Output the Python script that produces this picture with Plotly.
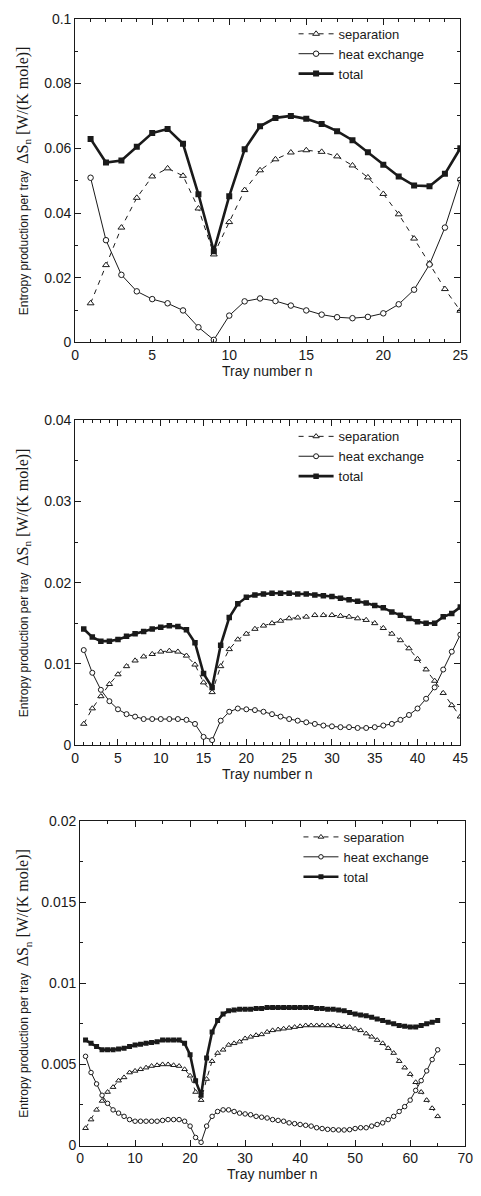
import plotly.graph_objects as go

# ---------------- data ----------------
top_trays = list(range(1, 26))
top_sep = [0.0121, 0.0239, 0.0355, 0.0447, 0.0513, 0.0538, 0.0515, 0.0414, 0.0272, 0.0372,
           0.0471, 0.0532, 0.0566, 0.0587, 0.0594, 0.0589, 0.0575, 0.0547, 0.0510, 0.0459,
           0.0396, 0.0321, 0.0244, 0.0165, 0.0098]
top_heat = [0.0509, 0.0316, 0.0209, 0.0158, 0.0134, 0.0121, 0.0099, 0.0047, 0.0008, 0.0083,
            0.0127, 0.0136, 0.0128, 0.0114, 0.0099, 0.0086, 0.0078, 0.0075, 0.0079, 0.0090,
            0.0118, 0.0163, 0.0241, 0.0355, 0.0503]
top_total = [0.0629, 0.0556, 0.0562, 0.0605, 0.0647, 0.0660, 0.0614, 0.0458, 0.0282, 0.0452,
             0.0597, 0.0668, 0.0694, 0.0700, 0.0691, 0.0675, 0.0653, 0.0625, 0.0588, 0.0549,
             0.0513, 0.0485, 0.0483, 0.0521, 0.0600]

mid_trays = list(range(1, 46))
mid_sep = [0.0026, 0.0045, 0.0060, 0.0075, 0.0087, 0.0097, 0.0104, 0.0109, 0.0112, 0.0115,
           0.0116, 0.0115, 0.0110, 0.0099, 0.0077, 0.0065, 0.0097, 0.0118, 0.0130, 0.0137,
           0.0143, 0.0147, 0.0150, 0.0153, 0.0156, 0.0157, 0.0158, 0.0160, 0.0160, 0.0160,
           0.0159, 0.0158, 0.0156, 0.0154, 0.0150, 0.0144, 0.0137, 0.0129, 0.0119, 0.0106,
           0.0093, 0.0079, 0.0064, 0.0049, 0.0035]
mid_heat = [0.0117, 0.0089, 0.0068, 0.0054, 0.0044, 0.0038, 0.0035, 0.0032, 0.0032, 0.0032,
            0.0032, 0.0032, 0.0031, 0.0026, 0.0010, 0.0006, 0.0030, 0.0041, 0.0045, 0.0044,
            0.0043, 0.0041, 0.0038, 0.0035, 0.0032, 0.0030, 0.0028, 0.0026, 0.0024, 0.0023,
            0.0022, 0.0022, 0.0021, 0.0021, 0.0022, 0.0024, 0.0026, 0.0031, 0.0037, 0.0045,
            0.0057, 0.0071, 0.0093, 0.0115, 0.0136]
mid_total = [0.0143, 0.0133, 0.0128, 0.0128, 0.0130, 0.0134, 0.0137, 0.0140, 0.0143, 0.0145,
             0.0147, 0.0146, 0.0142, 0.0126, 0.0088, 0.0071, 0.0123, 0.0157, 0.0174, 0.0182,
             0.0185, 0.0186, 0.0187, 0.0187, 0.0187, 0.0186, 0.0186, 0.0185, 0.0184, 0.0183,
             0.0181, 0.0179, 0.0177, 0.0175, 0.0172, 0.0169, 0.0164, 0.0160, 0.0156, 0.0152,
             0.0150, 0.0150, 0.0158, 0.0162, 0.0170]

bot_trays = list(range(1, 66))
bot_sep = [0.00107, 0.0016, 0.0022, 0.00275, 0.0033, 0.0036, 0.0040, 0.0042, 0.0045, 0.0046,
           0.0047, 0.0048, 0.0049, 0.00495, 0.0050, 0.0050, 0.00495, 0.0049, 0.0047, 0.0043,
           0.0033, 0.0028, 0.0041, 0.0052, 0.0057, 0.0059, 0.0062, 0.0063, 0.0064, 0.0066,
           0.0067, 0.0068, 0.00685, 0.0070, 0.0071, 0.00715, 0.0072, 0.00725, 0.0073, 0.00735,
           0.0074, 0.0074, 0.0074, 0.0074, 0.0074, 0.0074, 0.00735, 0.0073, 0.0073, 0.0072,
           0.0071, 0.0069, 0.0067, 0.0065, 0.0063, 0.0060, 0.0057, 0.0052, 0.0048, 0.0044,
           0.0039, 0.0033, 0.0028, 0.0023, 0.0018]
bot_heat = [0.0055, 0.0045, 0.0038, 0.0031, 0.0026, 0.0022, 0.0020, 0.0018, 0.0016, 0.0015,
            0.0015, 0.0015, 0.0015, 0.0015, 0.00155, 0.0016, 0.0016, 0.0016, 0.0015, 0.0012,
            0.0005, 0.0002, 0.0012, 0.0018, 0.0021, 0.0022, 0.0022, 0.0021, 0.0020, 0.00195,
            0.0019, 0.0018, 0.00175, 0.0017, 0.0016, 0.00155, 0.0015, 0.0014, 0.00135, 0.0013,
            0.00125, 0.0012, 0.0011, 0.00105, 0.0010, 0.00098, 0.00096, 0.00096, 0.00098, 0.00105,
            0.0011, 0.0011, 0.0012, 0.0013, 0.0014, 0.0016, 0.0018, 0.0021, 0.0024, 0.0028,
            0.0034, 0.0040, 0.0046, 0.0053, 0.0059]
bot_total = [0.0065, 0.0063, 0.0061, 0.0059, 0.0059, 0.0059, 0.00595, 0.0060, 0.0061, 0.0062,
             0.00625, 0.0063, 0.00635, 0.0064, 0.0065, 0.0065, 0.0065, 0.0065, 0.0063, 0.0056,
             0.0040, 0.0031, 0.0054, 0.0070, 0.0077, 0.0081, 0.0083, 0.00835, 0.0084, 0.0084,
             0.0084, 0.00845, 0.00845, 0.0085, 0.0085, 0.0085, 0.0085, 0.0085, 0.0085, 0.0085,
             0.0085, 0.0085, 0.00845, 0.00845, 0.0084, 0.0084, 0.00835, 0.0083, 0.0082, 0.0081,
             0.00805, 0.0080, 0.0079, 0.0078, 0.0077, 0.0076, 0.0075, 0.0074, 0.00735, 0.0073,
             0.0073, 0.0074, 0.0075, 0.0076, 0.0077]

series_names = ["separation", "heat exchange", "total"]
x_title = "Tray number n"
y_title = ("Entropy production per tray&nbsp;&nbsp;"
           "<span style=\"font-family:'Liberation Serif','Times New Roman',serif;font-size:16px\">"
           "ΔS<sub>n</sub> [W/(K mole)]</span>")

# ---------------- layout geometry ----------------
W, H = 481, 1196
panels = [
    dict(n=top_trays, sep=top_sep, heat=top_heat, tot=top_total, xr=[0, 25], xd=5, xm=1,
         yr=[0, 0.1], yd=0.02, ym=0.01, box=(73, 468, 11, 339), ms=6, leg=(297, 11)),
    dict(n=mid_trays, sep=mid_sep, heat=mid_heat, tot=mid_total, xr=[0, 45], xd=5, xm=1,
         yr=[0, 0.04], yd=0.01, ym=0.005, box=(73, 468, 418, 747), ms=5.5, leg=(297, 419)),
    dict(n=bot_trays, sep=bot_sep, heat=bot_heat, tot=bot_total, xr=[0, 70], xd=10, xm=5,
         yr=[0, 0.02], yd=0.005, ym=0.0025, box=(78, 473, 824, 1153), ms=5, leg=(302, 825)),
]

FONT = "Liberation Sans, Arial, Helvetica, sans-serif"
INK = "#1a1a1a"

fig = go.Figure()
layout = dict(
    width=W, height=H, margin=dict(l=0, r=0, t=0, b=0),
    paper_bgcolor="white", plot_bgcolor="white",
    font=dict(family=FONT, size=14, color=INK),
    annotations=[],
)

for i, p in enumerate(panels):
    k = "" if i == 0 else str(i + 1)
    xa, ya = "x" + k, "y" + k
    leg = "legend" + k
    x0, x1, y0, y1 = p["box"]
    common = dict(
        showgrid=False, zeroline=False, showline=True, linecolor=INK, linewidth=1,
        mirror="allticks", ticks="inside", ticklen=6, tickwidth=1, tickcolor=INK,
        tickfont=dict(family=FONT, size=14, color=INK),
    )
    layout["xaxis" + k] = dict(
        common, domain=[x0 / W, x1 / W], range=p["xr"], dtick=p["xd"], tick0=0,
        anchor=ya,
        minor=dict(dtick=p["xm"], ticks="inside", ticklen=3, tickcolor=INK, tickwidth=1),
    )
    layout["yaxis" + k] = dict(
        common, domain=[1 - y1 / H, 1 - y0 / H], range=p["yr"], dtick=p["yd"], tick0=0,
        anchor=xa,
        minor=dict(dtick=p["ym"], ticks="inside", ticklen=3, tickcolor=INK, tickwidth=1),
    )
    lx, ly = p["leg"]
    layout[leg] = dict(
        x=lx / W, y=1 - ly / H, xanchor="left", yanchor="top",
        bgcolor="rgba(0,0,0,0)", borderwidth=0, itemwidth=35,
        font=dict(family=FONT, size=13, color=INK), tracegroupgap=0,
        traceorder="normal",
    )
    ms = p["ms"]
    fig.add_trace(go.Scatter(
        x=p["n"], y=p["sep"], mode="lines+markers", name=series_names[0],
        xaxis=xa, yaxis=ya, legend=leg,
        line=dict(color=INK, width=1, dash="5px,5px"),
        marker=dict(symbol="triangle-up", size=ms, color="white",
                    line=dict(color=INK, width=1)),
    ))
    fig.add_trace(go.Scatter(
        x=p["n"], y=p["heat"], mode="lines+markers", name=series_names[1],
        xaxis=xa, yaxis=ya, legend=leg,
        line=dict(color=INK, width=1),
        marker=dict(symbol="circle", size=ms - 0.5, color="white",
                    line=dict(color=INK, width=1)),
    ))
    fig.add_trace(go.Scatter(
        x=p["n"], y=p["tot"], mode="lines+markers", name=series_names[2],
        xaxis=xa, yaxis=ya, legend=leg,
        line=dict(color=INK, width=2.6),
        marker=dict(symbol="square", size=ms, color=INK,
                    line=dict(color=INK, width=0)),
    ))
    layout["annotations"].append(dict(
        xref="paper", yref="paper", x=(x0 + x1) / 2 / W, y=1 - (y1 + 29) / H,
        xanchor="center", yanchor="middle", showarrow=False, text=x_title,
        font=dict(family=FONT, size=14, color=INK),
    ))
    layout["annotations"].append(dict(
        xref="paper", yref="paper", x=20 / W, y=1 - (y0 + y1) / 2 / H,
        xanchor="center", yanchor="middle", showarrow=False, text=y_title,
        textangle=-90, font=dict(family=FONT, size=12, color=INK),
    ))

fig.update_layout(**layout)
fig.write_html("out.html")
